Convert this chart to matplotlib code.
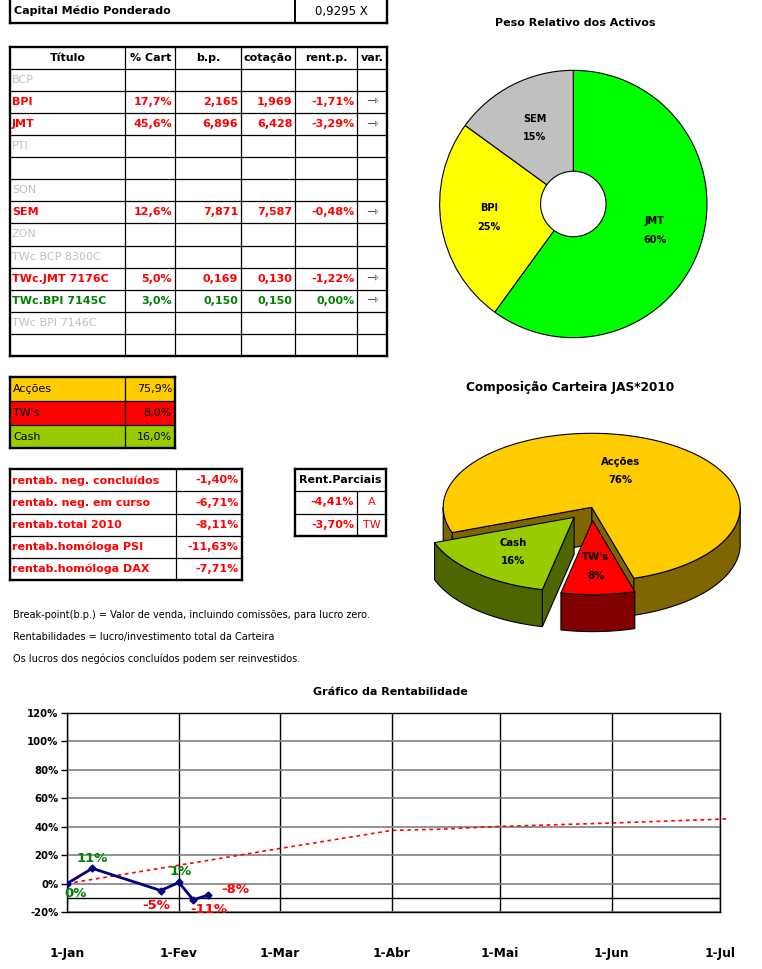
import numpy as np
import matplotlib
matplotlib.use("Agg")
import matplotlib.pyplot as plt
import matplotlib.dates as mdates
from matplotlib.patches import Polygon

plt.rcParams['font.family'] = ['DejaVu Sans']

# ---------------- data ----------------
capital_label = "Capital Médio Ponderado"
capital_value = 0.9295

headers = ["Título", "% Cart", "b.p.", "cotação", "rent.p.", "var."]
titles = ["BCP", "BPI", "JMT", "PTI", "", "SON", "SEM", "ZON",
          "TWc.BCP 8300C", "TWc.JMT 7176C", "TWc.BPI 7145C", "TWc.BPI 7146C", ""]
pct_cart = [None, 17.7, 45.6, None, None, None, 12.6, None, None, 5.0, 3.0, None, None]
break_point = [None, 2.165, 6.896, None, None, None, 7.871, None, None, 0.169, 0.150, None, None]
cotacao = [None, 1.969, 6.428, None, None, None, 7.587, None, None, 0.130, 0.150, None, None]
rent_p = [None, -1.71, -3.29, None, None, None, -0.48, None, None, -1.22, 0.00, None, None]

comp_labels = ["Acções", "TW's", "Cash"]
comp_vals = [75.9, 8.0, 16.0]

rent_labels = ["rentab. neg. concluídos", "rentab. neg. em curso", "rentab.total 2010",
               "rentab.homóloga PSI", "rentab.homóloga DAX"]
rent_vals = [-1.40, -6.71, -8.11, -11.63, -7.71]

parc_title = "Rent.Parciais"
parc_vals = [-4.41, -3.70]
parc_tags = ["A", "TW"]

notes = ["Break-point(b.p.) = Valor de venda, incluindo comissões, para lucro zero.",
         "Rentabilidades = lucro/investimento total da Carteira",
         "Os lucros dos negócios concluídos podem ser reinvestidos."]

donut_title = "Peso Relativo dos Activos"
donut_labels = ["JMT", "BPI", "SEM"]
donut_pct = [60, 25, 15]

pie3_title = "Composição Carteira JAS*2010"

line_title = "Gráfico da Rentabilidade"
perf_dates = np.array(["2010-01-01", "2010-01-08", "2010-01-27", "2010-02-01",
                       "2010-02-05", "2010-02-09"], dtype="datetime64[D]")
perf_vals = [0.0, 10.7, -4.9, 0.8, -11.4, -8.2]
bench_dates = np.array(["2010-01-01", "2010-02-01", "2010-03-01", "2010-04-01",
                        "2010-04-15", "2010-05-01", "2010-06-01", "2010-07-01",
                        "2010-07-03"], dtype="datetime64[D]")
bench_vals = [0.0, 12.9, 24.7, 37.4, 38.3, 40.2, 42.6, 45.3, 45.6]
month_ticks = np.array(["2010-01-01", "2010-02-01", "2010-03-01", "2010-04-01",
                        "2010-05-01", "2010-06-01", "2010-07-01"], dtype="datetime64[D]")
month_labels = ["1-Jan", "1-Fev", "1-Mar", "1-Abr", "1-Mai", "1-Jun", "1-Jul"]
y_ticks = [-20, 0, 20, 40, 60, 80, 100, 120]

# ---------------- helpers ----------------
W, H = 762, 969
RED, GREEN, GRAY = "#ff0000", "#008000", "#c0c0c0"


def fmt(v, d, pct=False):
    s = f"{v:.{d}f}".replace(".", ",")
    return s + ("%" if pct else "")


def frect(x0, y0, x1, y1):
    return [x0 / W, 1 - y1 / H, (x1 - x0) / W, (y1 - y0) / H]


fig = plt.figure(figsize=(W / 100, H / 100), dpi=100)
tab = fig.add_axes([0, 0, 1, 1])
tab.set_xlim(0, W)
tab.set_ylim(H, 0)
tab.axis("off")

OUT, INN = 1.7, 0.9
FS = 8


def hline(y, x0, x1, lw=INN):
    tab.plot([x0, x1], [y, y], color="black", lw=lw, solid_capstyle="projecting")


def vline(x, y0, y1, lw=INN):
    tab.plot([x, x], [y0, y1], color="black", lw=lw, solid_capstyle="projecting")


def box(x0, y0, x1, y1, lw=OUT):
    hline(y0, x0, x1, lw); hline(y1, x0, x1, lw)
    vline(x0, y0, y1, lw); vline(x1, y0, y1, lw)


# ---- capital box ----
vline(10, -2, 22.7, OUT); vline(386.7, -2, 22.7, OUT); hline(22.7, 10, 386.7, OUT)
vline(295, -2, 22.7, INN + 0.5)
tab.text(14, 11, capital_label, fontsize=FS, fontweight="bold", va="center", ha="left")
tab.text(341, 11, fmt(capital_value, 4) + " X", fontsize=FS + 0.5, va="center", ha="center")

# ---- main table ----
cols = [10, 125.3, 175.3, 241.3, 295.3, 357.3, 386.7]
top, hdr_bot, rh = 47, 68.7, 22.1
nrows = len(titles)
bot = hdr_bot + rh * nrows
for i in range(nrows):
    hline(hdr_bot + rh * i, cols[0], cols[-1])
for c in cols[1:-1]:
    vline(c, top, bot)
box(cols[0], top, cols[-1], bot)
for j, h in enumerate(headers):
    tab.text((cols[j] + cols[j + 1]) / 2, (top + hdr_bot) / 2, h, fontsize=FS,
             fontweight="bold", ha="center", va="center")
for i, name in enumerate(titles):
    yc = hdr_bot + rh * (i + 0.5)
    if rent_p[i] is None:
        if name:
            tab.text(cols[0] + 2, yc, name, fontsize=FS, color=GRAY, ha="left", va="center")
        continue
    col = RED if rent_p[i] < 0 else GREEN
    tab.text(cols[0] + 2, yc, name, fontsize=FS, color=col, fontweight="bold",
             ha="left", va="center")
    vals = [fmt(pct_cart[i], 1, True), fmt(break_point[i], 3), fmt(cotacao[i], 3),
            fmt(rent_p[i], 2, True)]
    for j, s in enumerate(vals):
        tab.text(cols[j + 2] - 3, yc, s, fontsize=FS, color=col, fontweight="bold",
                 ha="right", va="center")
    tab.text((cols[5] + cols[6]) / 2, yc, "⇾", fontsize=FS + 2, color="#404040",
             ha="center", va="center")

# ---- composition table ----
ccols = [10, 125.3, 175]
ctop, crh = 377.3, 23.7
comp_fill = ["#ffcc00", "#ff0000", "#99cc00"]
for i, (lab, v) in enumerate(zip(comp_labels, comp_vals)):
    y0 = ctop + crh * i
    tab.fill_between([ccols[0], ccols[2]], y0, y0 + crh, color=comp_fill[i], lw=0)
    tab.text(ccols[0] + 3, y0 + crh / 2, lab, fontsize=FS, ha="left", va="center")
    tab.text(ccols[2] - 3, y0 + crh / 2, fmt(v, 1, True), fontsize=FS, ha="right", va="center")
    if i:
        hline(y0, ccols[0], ccols[2])
vline(ccols[1], ctop, ctop + crh * 3)
box(ccols[0], ctop, ccols[2], ctop + crh * 3)

# ---- rentab table ----
rcols = [10, 175.7, 241.7]
rtop, rrh = 469.3, 22.14
for i, (lab, v) in enumerate(zip(rent_labels, rent_vals)):
    y0 = rtop + rrh * i
    if i:
        hline(y0, rcols[0], rcols[2])
    tab.text(rcols[0] + 2, y0 + rrh / 2, lab, fontsize=FS, color=RED, fontweight="bold",
             ha="left", va="center")
    tab.text(rcols[2] - 3, y0 + rrh / 2, fmt(v, 2, True), fontsize=FS, color=RED,
             fontweight="bold", ha="right", va="center")
vline(rcols[1], rtop, rtop + rrh * 5)
box(rcols[0], rtop, rcols[2], rtop + rrh * 5)

# ---- parciais table ----
pcols = [294.7, 357.3, 386]
ptop, prh = 469.3, 22.1
tab.text((pcols[0] + pcols[2]) / 2, ptop + prh / 2, parc_title, fontsize=FS,
         fontweight="bold", ha="center", va="center")
for i, (v, t) in enumerate(zip(parc_vals, parc_tags)):
    y0 = ptop + prh * (i + 1)
    hline(y0, pcols[0], pcols[2])
    tab.text(pcols[1] - 3, y0 + prh / 2, fmt(v, 2, True), fontsize=FS, color=RED,
             fontweight="bold", ha="right", va="center")
    tab.text((pcols[1] + pcols[2]) / 2, y0 + prh / 2, t, fontsize=FS, color=RED,
             ha="center", va="center")
vline(pcols[1], ptop + prh, ptop + prh * 3)
box(pcols[0], ptop, pcols[2], ptop + prh * 3)

# ---- notes ----
for i, n in enumerate(notes):
    tab.text(13, 615 + 21.7 * i, n, fontsize=7, ha="left", va="center")

# ---------------- donut ----------------
dcx, dcy, dr = 573.3, 204, 135
dax = fig.add_axes(frect(dcx - dr, dcy - dr, dcx + dr, dcy + dr))
wedges, texts = dax.pie(donut_pct, colors=["#00ff00", "#ffff00", "#c0c0c0"],
                        startangle=90, counterclock=False, radius=1,
                        labels=[f"{l}\n\n{p}%" for l, p in zip(donut_labels, donut_pct)],
                        labeldistance=0.64,
                        wedgeprops=dict(width=1 - 0.245, edgecolor="black", linewidth=0.8),
                        textprops=dict(fontsize=7, fontweight="bold", ha="center",
                                       va="center", linespacing=0.9))
dax.set_xlim(-1.01, 1.01)
dax.set_ylim(-1.01, 1.01)
dax.set_aspect("equal")
dax.axis("off")
tab.text(575, 23, donut_title, fontsize=8, fontweight="bold", ha="center", va="center")

# ---------------- 3D pie ----------------
tab.text(570, 387, pie3_title, fontsize=8.7, fontweight="bold", ha="center", va="center")
cx3, cy3, a3, b3, dep = 591.7, 507.3, 148.5, 74.0, 37.0
start = 200.0
explode = [0.0, 0.18, 0.18]
tops = ["#ffcc00", "#ff0000", "#99cc00"]
sides = ["#806600", "#800000", "#4d6600"]
fr = np.array(comp_vals) / sum(comp_vals)
cum = np.concatenate([[0], np.cumsum(fr)]) * 360.0
slices = []
for i in range(len(comp_vals)):
    th2 = start - cum[i]
    th1 = start - cum[i + 1]
    if th2 < th1:
        th2 += 360
    slices.append((th1, th2))


def P(c, t, z):
    r = np.radians(t)
    return (c[0] + a3 * np.cos(r), c[1] - b3 * np.sin(r) + z)


draw_order = [0, 2, 1]
for i in draw_order:
    th1, th2 = slices[i]
    mid = np.radians((th1 + th2) / 2)
    c = (cx3 + explode[i] * a3 * np.cos(mid), cy3 - explode[i] * b3 * np.sin(mid))
    kw = dict(edgecolor="black", lw=0.8, joinstyle="round")
    # radial faces
    for th, vis in ((th1, np.cos(np.radians(th1)) > 0), (th2, np.cos(np.radians(th2)) < 0)):
        if vis:
            pts = [(c[0], c[1]), P(c, th, 0), P(c, th, dep), (c[0], c[1] + dep)]
            tab.add_patch(Polygon(pts, closed=True, facecolor=sides[i], **kw))
    # outer wall
    ts = np.linspace(th1, th2, 400)
    mask = np.sin(np.radians(ts)) < 0
    runs, cur = [], []
    for t, m in zip(ts, mask):
        if m:
            cur.append(t)
        elif cur:
            runs.append(cur); cur = []
    if cur:
        runs.append(cur)
    for run in runs:
        if len(run) < 2:
            continue
        pts = [P(c, t, 0) for t in run] + [P(c, t, dep) for t in run[::-1]]
        tab.add_patch(Polygon(pts, closed=True, facecolor=sides[i], **kw))
    # top
    pts = [(c[0], c[1])] + [P(c, t, 0) for t in ts]
    tab.add_patch(Polygon(pts, closed=True, facecolor=tops[i], **kw))
    k = 0.55 if i == 0 else 0.62
    lx, ly = c[0] + k * a3 * np.cos(mid), c[1] - k * b3 * np.sin(mid)
    if i == 0:
        lx -= 8
    tab.text(lx, ly, f"{comp_labels[i]}\n\n{comp_vals[i]:.0f}%", fontsize=7.3,
             fontweight="bold", ha="center", va="center", linespacing=0.9, zorder=6)

# ---------------- line chart ----------------
lax = fig.add_axes(frect(67, 713, 720, 912))
lax.set_xlim(month_ticks[0], month_ticks[-1])
lax.set_ylim(y_ticks[0], y_ticks[-1])
lax.set_xticks(month_ticks)
lax.set_xticklabels(month_labels, fontsize=8.8, fontweight="bold")
lax.set_yticks(y_ticks)
lax.set_yticklabels([f"{v}%" for v in y_ticks], fontsize=7.3, fontweight="bold")
lax.tick_params(axis="x", length=0, pad=25)
lax.tick_params(axis="y", length=4, width=1, pad=2)
lax.xaxis.grid(True, color="black", lw=1)
lax.yaxis.grid(True, color="#808080", lw=1.2)
lax.set_axisbelow(True)
lax.axhline(-10, color="black", lw=1, zorder=1.5)
for s in lax.spines.values():
    s.set_color("black"); s.set_linewidth(1)
lax.plot(bench_dates, bench_vals, color="red", lw=1.2, ls=(0, (2.2, 2.2)), zorder=2,
         clip_on=False)
lax.plot(perf_dates, perf_vals, color="#000080", lw=2, marker="D", ms=3.5, zorder=3)
label_offsets = [(6, -7), (0, 7), (-3, -11), (1, 8), (11, -7), (20, 4)]
for d, v, off in zip(perf_dates, perf_vals, label_offsets):
    lax.annotate(f"{v:.0f}%", (d, v), xytext=off, textcoords="offset points",
                 ha="center", va="center", fontsize=9.5, fontweight="bold",
                 color=GREEN if round(v) >= 0 else RED)
fig.text(390 / W, 1 - 692 / H, line_title, fontsize=8, fontweight="bold",
         ha="center", va="center")

fig.savefig("out.png", dpi=100)
